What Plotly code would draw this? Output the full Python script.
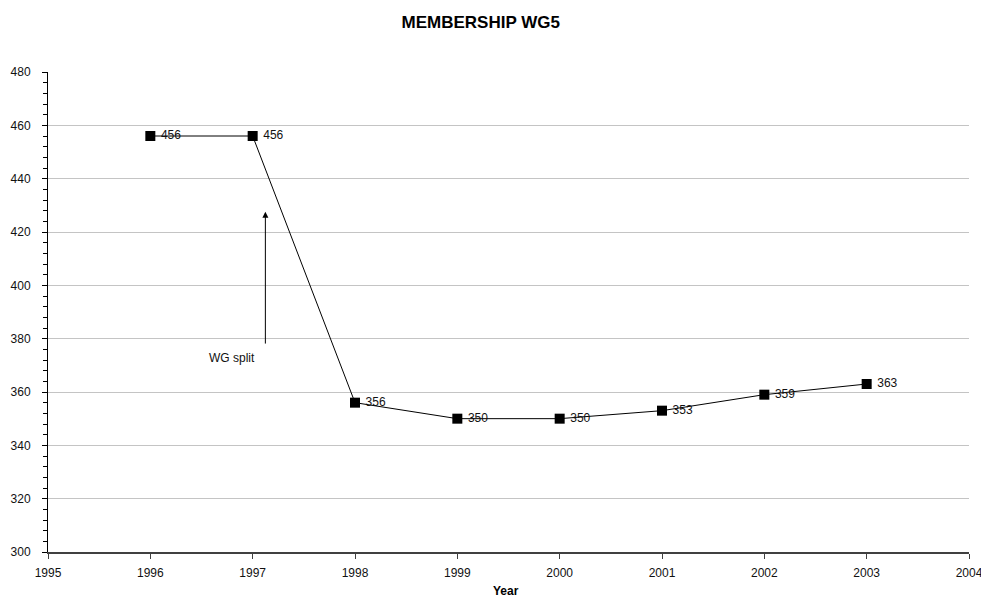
import plotly.graph_objects as go

years = [1996, 1997, 1998, 1999, 2000, 2001, 2002, 2003]
members = [456, 456, 356, 350, 350, 353, 359, 363]
labels = [str(v) for v in members]
x_ticks = [1995, 1996, 1997, 1998, 1999, 2000, 2001, 2002, 2003, 2004]

arrow_x = 1997.124
arrow_tail_y = 377.6
arrow_head_y = 427.6
note_text = "WG split"
note_x = 1996.80
note_y = 372.6

font = "Liberation Sans, Arial, sans-serif"

fig = go.Figure()
fig.add_trace(go.Scatter(
    x=years, y=members, mode="lines+markers+text",
    text=labels, texttemplate="\u00a0%{text}", textposition="middle right",
    textfont=dict(family=font, size=12, color="#111111"),
    line=dict(color="black", width=1),
    marker=dict(symbol="square", size=10, color="black"),
    cliponaxis=False, showlegend=False,
))

fig.add_annotation(
    x=arrow_x, y=arrow_head_y, ax=arrow_x, ay=arrow_tail_y,
    xref="x", yref="y", axref="x", ayref="y",
    text="", showarrow=True, arrowhead=2, arrowsize=1.2,
    arrowwidth=1, arrowcolor="black",
)
fig.add_annotation(
    x=note_x, y=note_y, xref="x", yref="y", text=note_text,
    showarrow=False, font=dict(family=font, size=12, color="#111111"),
)
# x-axis title
fig.add_annotation(
    x=0.497, y=-0.081, xref="paper", yref="paper", text="<b>Year</b>",
    showarrow=False, xanchor="center", yanchor="middle",
    font=dict(family=font, size=12, color="black"),
)

fig.update_layout(
    width=981, height=603,
    margin=dict(l=48, r=12, t=72, b=51),
    paper_bgcolor="white", plot_bgcolor="white",
    title=dict(text="<b>MEMBERSHIP WG5</b>", x=0.490, xanchor="center",
               y=0.9635, yanchor="middle",
               font=dict(family=font, size=17, color="black")),
    font=dict(family=font, size=12, color="#111111"),
)
fig.update_xaxes(
    range=[1995, 2004], tickmode="array", tickvals=x_ticks,
    ticktext=[str(t) for t in x_ticks],
    showgrid=False, zeroline=False, automargin=False,
    showline=True, linecolor="#404040", linewidth=2,
    ticks="outside", ticklen=5, tickcolor="#404040", tickwidth=1,
    ticklabelstandoff=4, ticklabeloverflow="allow",
    tickfont=dict(family=font, size=12, color="#111111"),
)
fig.update_yaxes(
    range=[300, 480], dtick=20, tick0=300,
    showgrid=True, gridcolor="#c4c4c4", gridwidth=1,
    zeroline=False, automargin=False,
    showline=True, linecolor="black", linewidth=1,
    ticks="outside", ticklen=5, tickcolor="black", tickwidth=1,
    ticklabelstandoff=9, ticklabeloverflow="allow",
    tickfont=dict(family=font, size=12, color="#111111"),
    minor=dict(dtick=4, ticks="outside", ticklen=4, tickcolor="black", showgrid=False),
)

fig.write_html(
    "out.html",
    config={"displayModeBar": False},
    post_script="document.body.style.margin='0';document.body.style.overflow='hidden';",
)
